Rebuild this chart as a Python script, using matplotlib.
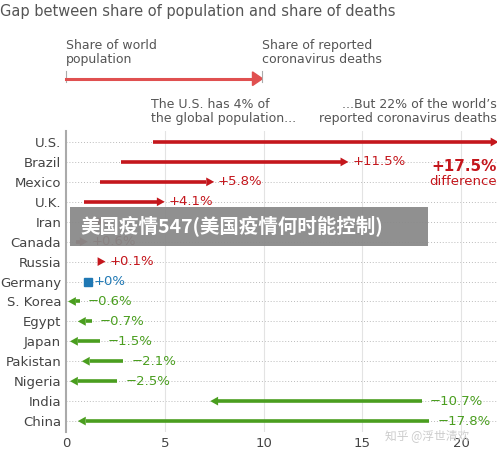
import matplotlib.pyplot as plt

countries = ['U.S.', 'Brazil', 'Mexico', 'U.K.', 'Iran', 'Canada', 'Russia', 'Germany',
             'S. Korea', 'Egypt', 'Japan', 'Pakistan', 'Nigeria', 'India', 'China']
pop_share = [4.4, 2.8, 1.7, 0.9, 1.0, 0.5, 1.9, 1.1, 0.7, 1.3, 1.7, 2.9, 2.6, 18.0, 18.4]
death_share = [21.9, 14.3, 7.5, 5.0, 2.0, 1.1, 2.0, 1.1, 0.1, 0.6, 0.2, 0.8, 0.2, 7.3, 0.6]
gap_labels = ['', '+11.5%', '+5.8%', '+4.1%', '', '+0.6%', '+0.1%', '+0%', '\u22120.6%',
              '\u22120.7%', '\u22121.5%', '\u22122.1%', '\u22122.5%', '\u221210.7%', '\u221217.8%']

RED = '#c4161c'
DARK = '#8b0b0b'
GREEN = '#4a9e1f'
BLUE = '#1f78b4'

fig = plt.figure(figsize=(5, 4.55), dpi=100)
ax = fig.add_axes([0.132, 0.0505, 0.862, 0.6615])
ax.set_xlim(0, 21.82)
ax.set_ylim(14.55, -0.55)

for i in range(len(countries)):
    ax.axhline(i, color='#bbbbbb', lw=0.7, ls=(0, (1, 2)), zorder=0)
for x in [5, 10, 15, 20]:
    ax.axvline(x, color='#e3e3e3', lw=0.8, zorder=0)

HL = 0.4
for i, (a, b, lab) in enumerate(zip(pop_share, death_share, gap_labels)):
    d = b - a
    if abs(d) < 1e-9:
        ax.plot(a, i, 's', color=BLUE, ms=6)
        ax.text(a + 0.3, i, lab, color=BLUE, va='center', fontsize=9.5)
        continue
    col = GREEN if d < 0 else (DARK if i in (4, 5) else RED)
    sgn = 1 if d > 0 else -1
    tail_end = b - sgn * HL
    if sgn * (tail_end - a) > 0:
        ax.plot([a, tail_end], [i, i], color=col, lw=2.6, solid_capstyle='butt')
    base = b - sgn * HL
    ax.fill([base, base, b], [i - 0.22, i + 0.22, i], color=col, lw=0)
    if lab:
        x0 = b + 0.2 if d > 0 else a + 0.4
        ax.text(x0, i, lab, color=col, va='center', ha='left', fontsize=9.5)

ax.text(21.8, 1.25, '+17.5%', color=RED, fontsize=11, fontweight='bold', ha='right', va='center')
ax.text(21.8, 2.0, 'difference', color=RED, fontsize=9.5, ha='right', va='center')

ax.set_yticks(range(len(countries)))
ax.set_yticklabels(countries, fontsize=9.5, color='#444444')
ax.set_xticks([0, 5, 10, 15, 20])
ax.tick_params(axis='x', labelsize=9.5, colors='#444444', length=0)
ax.tick_params(axis='y', length=0)
for s in ['top', 'right', 'bottom']:
    ax.spines[s].set_visible(False)
ax.spines['left'].set_color('#aaaaaa')
ax.spines['left'].set_linewidth(1.5)

# header
fig.text(0.0, 0.975, 'Gap between share of population and share of deaths', fontsize=10.5,
         color='#555555', va='center')
fig.text(0.132, 0.885, 'Share of world\npopulation', fontsize=9, color='#555555', va='center',
         linespacing=1.1)
fig.text(0.523, 0.885, 'Share of reported\ncoronavirus deaths', fontsize=9, color='#555555',
         va='center', linespacing=1.1)
fig.add_artist(plt.Line2D([0.132, 0.132], [0.82, 0.845], color='#aaaaaa', lw=0.8))
fig.add_artist(plt.Line2D([0.523, 0.523], [0.82, 0.845], color='#aaaaaa', lw=0.8))
fig.add_artist(plt.Line2D([0.132, 0.51], [0.827, 0.827], color='#e05050', lw=2.2))
fig.add_artist(plt.Polygon([[0.505, 0.812], [0.505, 0.842], [0.525, 0.827]],
                           closed=True, color='#e05050'))
fig.text(0.302, 0.755, 'The U.S. has 4% of\nthe global population...', fontsize=9,
         color='#555555', va='center', linespacing=1.1)
fig.text(0.993, 0.755, '...But 22% of the world\u2019s\nreported coronavirus deaths',
         fontsize=9, color='#555555', va='center', ha='right', multialignment='right',
         linespacing=1.1)

# overlay banner
fig.add_artist(plt.Rectangle((0.14, 0.459), 0.716, 0.086, color='#8a8a8a', alpha=0.95,
                             lw=0))
fig.text(0.16, 0.502, '美国疫情547(美国疫情何时能控制)', fontsize=14, fontweight='bold',
         color='white', va='center', family=['Noto Sans CJK SC', 'DejaVu Sans'])
fig.text(0.77, 0.043, '知乎 @浮世清欢', fontsize=8.5, color='#cccccc', va='center',
         family=['Noto Sans CJK SC', 'DejaVu Sans'], zorder=0)

fig.savefig('out.png', dpi=100)
